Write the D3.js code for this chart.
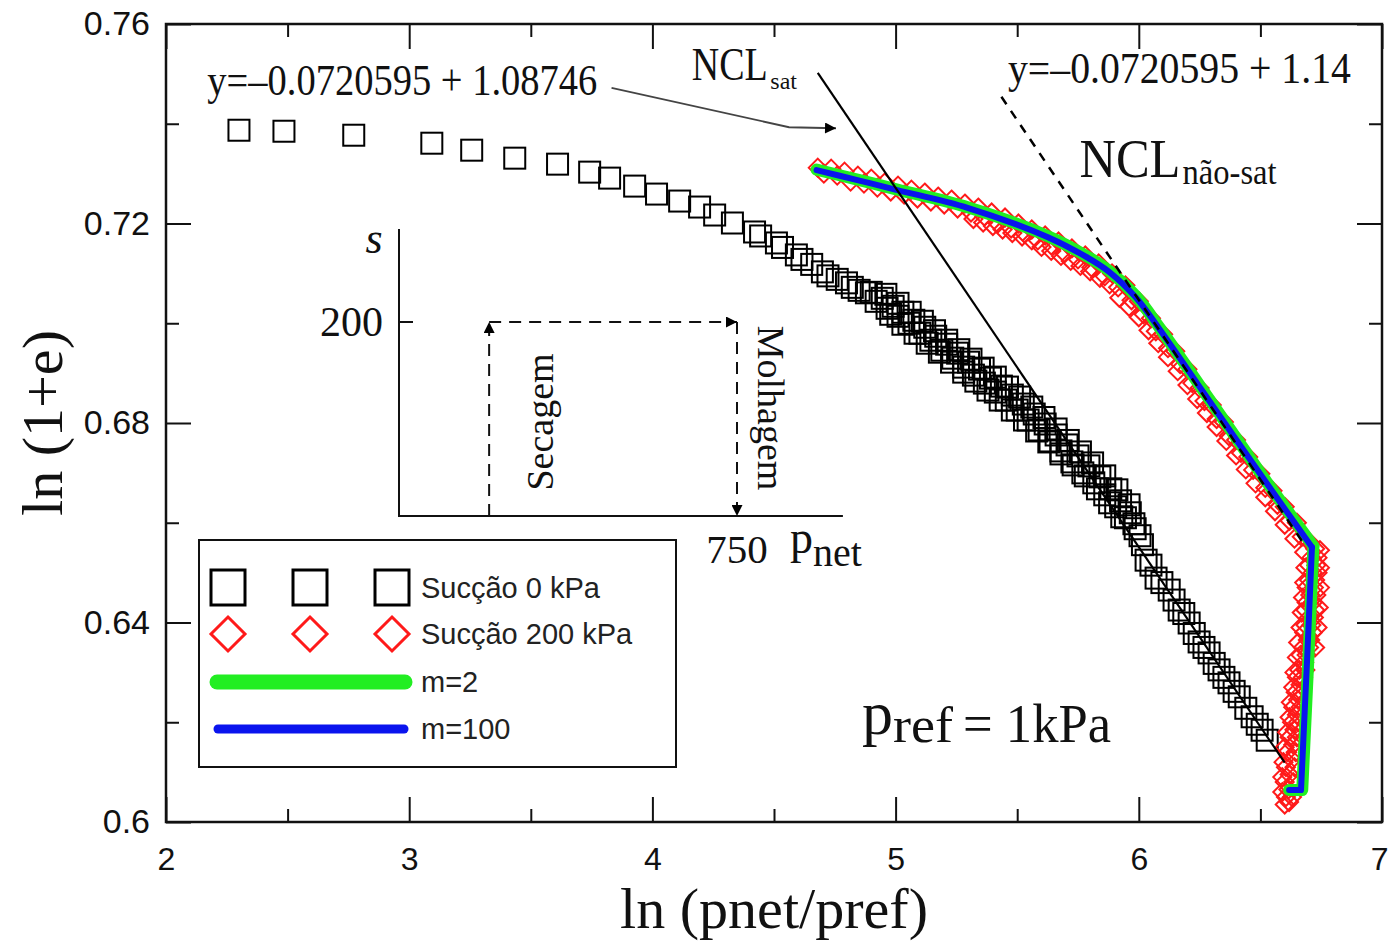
<!DOCTYPE html>
<html><head><meta charset="utf-8">
<script src="https://cdn.jsdelivr.net/npm/d3@7"></script>
<style>body{margin:0;background:#fff}</style>
</head><body>
<svg id="chart" width="1389" height="946"></svg>
<script>
// ---------------- DATA ----------------
const xMajorTicks = [2, 3, 4, 5, 6, 7];
const xMinorTicks = [2.5, 3.5, 4.5, 5.5, 6.5];
const yMajorTicks = [0.60, 0.64, 0.68, 0.72, 0.76];
const yMinorTicks = [0.62, 0.66, 0.70, 0.74];
const yTickLabels = ["0.6", "0.64", "0.68", "0.72", "0.76"];
const xTickLabels = ["2", "3", "4", "5", "6", "7"];

// Sucção 0 kPa  [ln(pnet/pref), ln(1+e)]
const suction0 = [
 [2.300,0.7387],[2.485,0.7385],[2.772,0.7377],[3.093,0.7361],[3.257,0.7347],[3.434,0.7331],
 [3.610,0.7319],[3.742,0.7303],[3.824,0.7291],[3.927,0.7275],[4.017,0.7259],[4.112,0.7245],
 [4.194,0.7233],[4.256,0.7217],[4.329,0.7201],[4.420,0.7183],[4.445,0.7175],[4.510,0.7161],
 [4.535,0.7152],[4.592,0.7137],[4.615,0.7128],[4.655,0.7118],[4.699,0.7103],[4.722,0.7095],
 [4.760,0.7088],[4.798,0.7081],[4.822,0.7072],[4.850,0.7066],[4.880,0.7061],
 [4.900,0.7062],[4.920,0.7044],[4.945,0.7050],[4.965,0.7030],[4.990,0.7034],[5.010,0.7014],
 [5.030,0.7022],[5.055,0.7000],[5.075,0.7006],[5.100,0.6980],[5.120,0.6992],[5.145,0.6966],
 [5.165,0.6974],[5.190,0.6946],[5.210,0.6958],[5.235,0.6930],[5.255,0.6940],[5.280,0.6912],
 [5.300,0.6922],[5.320,0.6896],[5.345,0.6908],[5.365,0.6880],[5.390,0.6890],[5.410,0.6862],
 [5.435,0.6874],[5.455,0.6846],[5.480,0.6856],[5.500,0.6826],[5.525,0.6838],[5.545,0.6806],
 [5.570,0.6818],[5.590,0.6786],[5.615,0.6798],[5.635,0.6764],[5.660,0.6776],[5.680,0.6744],
 [5.705,0.6756],[5.725,0.6722],[5.750,0.6734],[5.770,0.6700],[5.795,0.6714],[5.815,0.6680],
 [5.840,0.6692],[5.860,0.6656],[5.885,0.6668],[5.905,0.6632],[5.925,0.6644],[5.945,0.6610],
 [5.965,0.6620],[5.985,0.6588],[6.005,0.6574],[6.015,0.6556],
 [4.960,0.7058],[4.980,0.7018],[5.010,0.7040],[5.030,0.6998],[5.060,0.7022],[5.080,0.6980],
 [5.110,0.7004],[5.130,0.6960],[5.160,0.6985],[5.180,0.6942],[5.210,0.6966],[5.230,0.6922],
 [5.260,0.6947],[5.280,0.6902],[5.310,0.6928],[5.330,0.6884],[5.360,0.6910],[5.380,0.6866],
 [5.410,0.6892],[5.430,0.6846],[5.460,0.6872],[5.480,0.6826],[5.510,0.6852],[5.530,0.6806],
 [5.560,0.6832],[5.580,0.6784],[5.610,0.6811],[5.630,0.6762],[5.660,0.6788],[5.680,0.6738],
 [5.710,0.6765],[5.730,0.6716],[5.760,0.6742],[5.780,0.6694],[5.810,0.6720],[5.830,0.6668],
 [5.860,0.6694],[5.880,0.6640],[5.910,0.6666],[5.930,0.6612],[5.960,0.6636],[5.980,0.6598],
 [6.030,0.6525],[6.050,0.6515],[6.071,0.6489],[6.095,0.6480],[6.125,0.6465],[6.145,0.6445],
 [6.166,0.6425],[6.185,0.6418],[6.207,0.6399],[6.228,0.6378],[6.248,0.6361],[6.268,0.6350],
 [6.289,0.6339],[6.310,0.6318],[6.330,0.6305],[6.350,0.6290],[6.371,0.6279],[6.392,0.6262],
 [6.413,0.6251],[6.440,0.6228],[6.466,0.6211],[6.487,0.6196],[6.507,0.6184],[6.528,0.6164]
];

// Sucção 200 kPa
const suction200 = [
 [4.680,0.7312],[4.705,0.7300],[4.735,0.7310],[4.760,0.7296],[4.790,0.7304],[4.815,0.7284],
 [4.845,0.7296],[4.870,0.7280],[4.900,0.7290],[4.925,0.7272],[4.955,0.7282],[4.980,0.7264],
 [5.010,0.7276],[5.035,0.7258],[5.065,0.7268],[5.090,0.7250],[5.120,0.7262],[5.145,0.7244],
 [5.175,0.7254],[5.200,0.7238],[5.230,0.7248],[5.255,0.7230],[5.285,0.7240],[5.310,0.7222],
 [5.340,0.7232],[5.365,0.7214],[5.395,0.7222],[5.420,0.7200],[5.450,0.7212],[5.475,0.7190],
 [5.505,0.7200],[5.530,0.7180],[5.560,0.7188],[5.585,0.7166],[5.615,0.7176],[5.640,0.7156],
 [5.670,0.7164],[5.695,0.7140],[5.725,0.7150],[5.750,0.7128],[5.780,0.7136],[5.805,0.7112],
 [5.835,0.7120],[5.860,0.7094],[5.890,0.7100],[5.915,0.7072],[5.945,0.7076],[5.970,0.7046],
 [6.000,0.7044],[6.020,0.7018],[6.050,0.7010],[6.070,0.6984],[6.100,0.6978],[6.120,0.6950],
 [6.150,0.6944],[6.170,0.6918],[6.200,0.6908],[6.220,0.6880],[6.250,0.6870],[6.270,0.6844],
 [6.300,0.6836],[6.320,0.6808],[6.350,0.6802],[6.370,0.6774],[6.400,0.6766],[6.420,0.6740],
 [6.450,0.6732],[6.470,0.6706],[6.500,0.6698],[6.520,0.6670],[6.550,0.6664],[6.570,0.6636],
 [6.600,0.6632],[6.620,0.6604],[6.650,0.6600],[6.670,0.6572],[6.700,0.6562],[6.725,0.6548],
 [5.320,0.7209],[5.360,0.7202],[5.400,0.7195],[5.440,0.7188],[5.480,0.7181],[5.520,0.7174],
 [5.560,0.7166],
 [5.600,0.7153],[5.640,0.7145],[5.680,0.7135],[5.720,0.7125],[5.760,0.7115],[5.800,0.7104],
 [5.840,0.7091],[5.880,0.7078],[5.920,0.7051],[5.960,0.7033],[6.000,0.7012],[6.040,0.6986],
 [6.080,0.6960],[6.120,0.6932],[6.160,0.6904],[6.200,0.6876],[6.240,0.6848],[6.280,0.6820],
 [6.320,0.6792],[6.360,0.6764],[6.400,0.6735],[6.440,0.6707],[6.480,0.6679],[6.520,0.6651],
 [6.560,0.6623],[6.600,0.6596],[6.640,0.6568],[6.680,0.6541],
 [6.745,0.6545],[6.710,0.6530],[6.735,0.6530],[6.700,0.6515],[6.730,0.6515],[6.715,0.6500],
 [6.735,0.6500],[6.700,0.6485],[6.725,0.6485],[6.690,0.6470],[6.720,0.6470],[6.705,0.6455],
 [6.730,0.6455],[6.690,0.6440],[6.715,0.6440],[6.685,0.6425],[6.725,0.6425],[6.700,0.6410],
 [6.720,0.6410],[6.685,0.6395],[6.710,0.6395],[6.680,0.6380],[6.715,0.6380],[6.695,0.6365],
 [6.705,0.6365],[6.675,0.6350],[6.700,0.6350],[6.665,0.6335],[6.690,0.6335],[6.680,0.6320],
 [6.660,0.6305],[6.685,0.6305],[6.650,0.6290],[6.675,0.6290],[6.665,0.6275],[6.645,0.6260],
 [6.670,0.6260],[6.655,0.6245],[6.635,0.6230],[6.665,0.6230],[6.650,0.6215],[6.630,0.6200],
 [6.655,0.6200],[6.640,0.6185],[6.620,0.6170],[6.650,0.6170],[6.635,0.6155],[6.610,0.6140],
 [6.645,0.6140],[6.630,0.6125],[6.605,0.6110],[6.640,0.6110],[6.620,0.6095],[6.600,0.6080],
 [6.635,0.6080],[6.615,0.6065],[6.605,0.6050],[6.630,0.6050],[6.618,0.6040],
 [6.685,0.6510],[6.680,0.6480],[6.675,0.6450],[6.670,0.6420],[6.665,0.6390],[6.655,0.6360],
 [6.650,0.6330],[6.640,0.6300],[6.635,0.6270],[6.625,0.6240],[6.620,0.6210],[6.610,0.6180],
 [6.600,0.6150],[6.595,0.6120],[6.590,0.6090],[6.590,0.6060],[6.600,0.6035],
 [6.745,0.6510],[6.745,0.6470],[6.740,0.6430],[6.735,0.6390],[6.725,0.6350]
];

// model fits (curved loading branch + straight wetting branch)
const fitM2 = [
 [4.675,0.7308],[4.843,0.7288],[5.007,0.7268],[5.299,0.7232],[5.624,0.7175],[5.784,0.7135],
 [5.878,0.7105],[5.989,0.7054],[6.084,0.6992],[6.248,0.6877],[6.413,0.6761],[6.536,0.6675],
 [6.718,0.6553],[6.697,0.6325],[6.672,0.6064],[6.618,0.6064]
];
const fitM100 = [
 [4.675,0.7307],[4.843,0.7287],[5.007,0.7267],[5.299,0.7231],[5.624,0.7173],[5.784,0.7133],
 [5.878,0.7103],[5.989,0.7051],[6.084,0.6989],[6.248,0.6874],[6.413,0.6758],[6.536,0.6672],
 [6.712,0.6551],[6.692,0.6325],[6.667,0.6064],[6.618,0.6064]
];
const kinkIndex = 12;

// normal consolidation lines (end points)
const nclSat = [[4.680,0.7502],[6.600,0.6119]];
const nclNaoSat = [[5.435,0.7454],[6.685,0.6553]];

// inset (stress path) values
const insetSecagem = [[200,0],[200,200]];
const insetTop = [[200,200],[750,200]];
const insetMolhagem = [[750,200],[750,0]];

const legendItems = [
 {label:"Sucção 0 kPa", kind:"square"},
 {label:"Sucção 200 kPa", kind:"diamond"},
 {label:"m=2", kind:"green"},
 {label:"m=100", kind:"blue"}
];

// ---------------- DRAW ----------------
const serif = "'Liberation Serif','Times New Roman',serif";
const sans = "'Liberation Sans',Arial,Helvetica,sans-serif";
const svg = d3.select("#chart");
const L = 166, R = 1382, T = 24, B = 822;
const x = d3.scaleLinear([2, 7], [L, R]);
const y = d3.scaleLinear([0.6, 0.76], [B, T]);

const defs = svg.append("defs");
defs.append("marker").attr("id","arr").attr("viewBox","0 0 10 10")
  .attr("refX",10).attr("refY",5).attr("markerWidth",14).attr("markerHeight",11)
  .attr("markerUnits","userSpaceOnUse").attr("orient","auto")
  .append("path").attr("d","M0,0 L10,5 L0,10 Z").attr("fill","#000");
defs.append("clipPath").attr("id","plotclip").append("rect")
  .attr("x",L).attr("y",T).attr("width",R-L).attr("height",B-T);

function styleAxis(g){ g.select(".domain").remove(); g.selectAll("line").attr("stroke","#111").attr("stroke-width",2); }
svg.append("g").attr("transform",`translate(0,${B})`)
  .call(d3.axisBottom(x).tickValues(xMajorTicks).tickSizeInner(-25).tickSizeOuter(0).tickPadding(25)
    .tickFormat((d,i)=>xTickLabels[i]))
  .call(styleAxis)
  .call(g=>g.selectAll("text").attr("font-family",sans).attr("font-size",32).attr("fill","#111"))
  .call(g=>g.selectAll(".tick:last-of-type text").attr("text-anchor","end").attr("dx",6));
svg.append("g").attr("transform",`translate(0,${B})`)
  .call(d3.axisBottom(x).tickValues(xMinorTicks).tickSizeInner(-13).tickSizeOuter(0).tickFormat(""))
  .call(styleAxis);
svg.append("g").attr("transform",`translate(0,${T})`)
  .call(d3.axisTop(x).tickValues(xMajorTicks).tickSizeInner(-25).tickSizeOuter(0).tickFormat(""))
  .call(styleAxis);
svg.append("g").attr("transform",`translate(0,${T})`)
  .call(d3.axisTop(x).tickValues(xMinorTicks).tickSizeInner(-13).tickSizeOuter(0).tickFormat(""))
  .call(styleAxis);
svg.append("g").attr("transform",`translate(${L},0)`)
  .call(d3.axisLeft(y).tickValues(yMajorTicks).tickSizeInner(-25).tickSizeOuter(0).tickPadding(16)
    .tickFormat((d,i)=>yTickLabels[i]))
  .call(styleAxis)
  .call(g=>g.selectAll("text").attr("font-family",sans).attr("font-size",34).attr("fill","#111"));
svg.append("g").attr("transform",`translate(${L},0)`)
  .call(d3.axisLeft(y).tickValues(yMinorTicks).tickSizeInner(-13).tickSizeOuter(0).tickFormat(""))
  .call(styleAxis);
svg.append("g").attr("transform",`translate(${R},0)`)
  .call(d3.axisRight(y).tickValues(yMajorTicks).tickSizeInner(-25).tickSizeOuter(0).tickFormat(""))
  .call(styleAxis);
svg.append("g").attr("transform",`translate(${R},0)`)
  .call(d3.axisRight(y).tickValues(yMinorTicks).tickSizeInner(-13).tickSizeOuter(0).tickFormat(""))
  .call(styleAxis);

svg.append("text").attr("transform",`translate(62,${(T+B)/2}) rotate(-90)`)
  .attr("text-anchor","middle").attr("font-family",serif).attr("font-size",56)
  .attr("textLength",186).attr("lengthAdjust","spacingAndGlyphs").attr("fill","#111")
  .text("ln (1+e)");
svg.append("text").attr("x",(L+R)/2).attr("y",928)
  .attr("text-anchor","middle").attr("font-family",serif).attr("font-size",56)
  .attr("textLength",308).attr("lengthAdjust","spacingAndGlyphs").attr("fill","#111")
  .text("ln (pnet/pref)");

const plot = svg.append("g").attr("clip-path","url(#plotclip)");
const line = d3.line().x(d=>x(d[0])).y(d=>y(d[1]));
const curved = d3.line().x(d=>x(d[0])).y(d=>y(d[1])).curve(d3.curveCatmullRom.alpha(0.5));

const sq = 21;
plot.append("g").selectAll("rect").data(suction0).join("rect")
  .attr("x",d=>x(d[0])-sq/2).attr("y",d=>y(d[1])-sq/2)
  .attr("width",sq).attr("height",sq)
  .attr("fill","none").attr("stroke","#000").attr("stroke-width",2);

const dr = 9;
const diamond = (cx,cy,r)=>`M${cx},${cy-r}L${cx+r},${cy}L${cx},${cy+r}L${cx-r},${cy}Z`;
plot.append("g").selectAll("path").data(suction200).join("path")
  .attr("d",d=>diamond(x(d[0]),y(d[1]),dr))
  .attr("fill","none").attr("stroke","#ff1a1a").attr("stroke-width",2);

function drawFit(data, color, width){
  const gf = plot.append("g").attr("fill","none").attr("stroke",color).attr("stroke-width",width)
    .attr("stroke-linejoin","round").attr("stroke-linecap","round");
  gf.append("path").datum(data.slice(0,kinkIndex+1)).attr("d",curved);
  gf.append("path").datum(data.slice(kinkIndex)).attr("d",line);
}
drawFit(fitM2, "#22ee22", 12);
drawFit(fitM100, "#0a14ee", 6);

plot.append("path").datum(nclSat).attr("d",line).attr("fill","none")
  .attr("stroke","#000").attr("stroke-width",2.2);
plot.append("path").datum(nclNaoSat).attr("d",line).attr("fill","none")
  .attr("stroke","#000").attr("stroke-width",2.5).attr("stroke-dasharray","9,8");

svg.append("rect").attr("x",L).attr("y",T).attr("width",R-L).attr("height",B-T)
  .attr("fill","none").attr("stroke","#111").attr("stroke-width",2.5);

// annotations (placed in data coordinates)
const ann = svg.append("g").attr("font-family",serif).attr("fill","#111");
ann.append("text").attr("x",x(2.170)).attr("y",y(0.7458)).attr("font-size",44)
  .attr("textLength",390).attr("lengthAdjust","spacingAndGlyphs").text("y=–0.0720595 + 1.08746");
svg.append("path").datum([[3.832,0.7472],[4.562,0.7393],[4.755,0.7391]]).attr("d",line)
  .attr("fill","none").attr("stroke","#444").attr("stroke-width",1.8).attr("marker-end","url(#arr)");
ann.append("g").attr("transform",`translate(${x(4.162)},${y(0.7488)}) scale(1,1.2)`)
  .append("text").attr("font-size",38).text("NCL");
ann.append("text").attr("x",x(4.485)).attr("y",y(0.7488)+9).attr("font-size",24).text("sat");
ann.append("text").attr("x",x(5.462)).attr("y",y(0.7482)).attr("font-size",44)
  .attr("textLength",343).attr("lengthAdjust","spacingAndGlyphs").text("y=–0.0720595 + 1.14");
ann.append("text").attr("x",x(5.756)).attr("y",y(0.7293)).attr("font-size",54)
  .attr("textLength",101).attr("lengthAdjust","spacingAndGlyphs").text("NCL");
ann.append("text").attr("x",x(6.180)).attr("y",y(0.7293)+7).attr("font-size",36)
  .attr("textLength",94).attr("lengthAdjust","spacingAndGlyphs").text("não-sat");
const t3 = ann.append("text").attr("x",x(4.862)).attr("y",y(0.6176));
t3.append("tspan").attr("font-size",62).text("p");
t3.append("tspan").attr("font-size",50).attr("dy",8).attr("textLength",60).attr("lengthAdjust","spacingAndGlyphs").text("ref");
t3.append("tspan").attr("font-size",54).attr("dx",10).attr("textLength",148).attr("lengthAdjust","spacingAndGlyphs").text("= 1kPa");

// inset stress path
const sx = d3.scaleLinear([0, 750], [399, 737]);
const sy = d3.scaleLinear([0, 200], [516, 322]);
const inset = svg.append("g");
inset.append("path").attr("d",`M${sx(0)},${sy(296)}V${sy(0)}H${sx(985)}`)
  .attr("fill","none").attr("stroke","#111").attr("stroke-width",2);
inset.append("line").attr("x1",sx(0)).attr("x2",sx(0)+14).attr("y1",sy(200)).attr("y2",sy(200))
  .attr("stroke","#111").attr("stroke-width",2);
const iline = d3.line().x(d=>sx(d[0])).y(d=>sy(d[1]));
[insetSecagem, insetTop, insetMolhagem].forEach(p=>{
  inset.append("path").datum(p).attr("d",iline).attr("fill","none")
    .attr("stroke","#111").attr("stroke-width",2).attr("stroke-dasharray","12,8")
    .attr("marker-end","url(#arr)");
});
inset.append("text").attr("x",sx(0)-16).attr("y",sy(200)+14).attr("text-anchor","end")
  .attr("font-family",serif).attr("font-size",42).attr("fill","#111").text("200");
inset.append("text").attr("x",sx(0)-25).attr("y",sy(296)+24).attr("text-anchor","middle")
  .attr("font-family",serif).attr("font-style","italic").attr("font-size",44).attr("fill","#111").text("s");
inset.append("text").attr("x",sx(750)).attr("y",563).attr("text-anchor","middle")
  .attr("font-family",serif).attr("font-size",41).attr("fill","#111").text("750");
const pn = inset.append("text").attr("x",790).attr("y",553).attr("font-family",serif).attr("fill","#111");
pn.append("tspan").attr("font-size",46).text("p");
pn.append("tspan").attr("font-size",40).attr("dy",13).text("net");
inset.append("text").attr("transform",`translate(553,422) rotate(-90)`).attr("text-anchor","middle")
  .attr("font-family",serif).attr("font-size",38).attr("fill","#111").text("Secagem");
inset.append("text").attr("transform",`translate(758,408) rotate(90)`).attr("text-anchor","middle")
  .attr("font-family",serif).attr("font-size",38).attr("fill","#111").text("Molhagem");

// legend
const lg = svg.append("g");
lg.append("rect").attr("x",199).attr("y",540).attr("width",477).attr("height",227)
  .attr("fill","#fff").attr("stroke","#111").attr("stroke-width",2);
const rowY = [588, 634, 682, 729];
const mx = [228, 310, 392];
legendItems.forEach((it,i)=>{
  const cy = rowY[i];
  if (it.kind==="square") {
    lg.selectAll(null).data(mx).join("rect").attr("x",d=>d-17).attr("y",cy-18).attr("width",34).attr("height",35)
      .attr("fill","none").attr("stroke","#000").attr("stroke-width",3);
  } else if (it.kind==="diamond") {
    lg.selectAll(null).data(mx).join("path").attr("d",d=>diamond(d,cy,17))
      .attr("fill","none").attr("stroke","#ff1a1a").attr("stroke-width",3);
  } else if (it.kind==="green") {
    lg.append("line").attr("x1",217).attr("x2",405).attr("y1",cy).attr("y2",cy)
      .attr("stroke","#22ee22").attr("stroke-width",15).attr("stroke-linecap","round");
  } else {
    lg.append("line").attr("x1",218).attr("x2",404).attr("y1",cy).attr("y2",cy)
      .attr("stroke","#0a14ee").attr("stroke-width",9).attr("stroke-linecap","round");
  }
  lg.append("text").attr("x",421).attr("y",cy+10).attr("font-family",sans).attr("font-size",29)
    .attr("fill","#222").text(it.label);
});
</script>
</body></html>
